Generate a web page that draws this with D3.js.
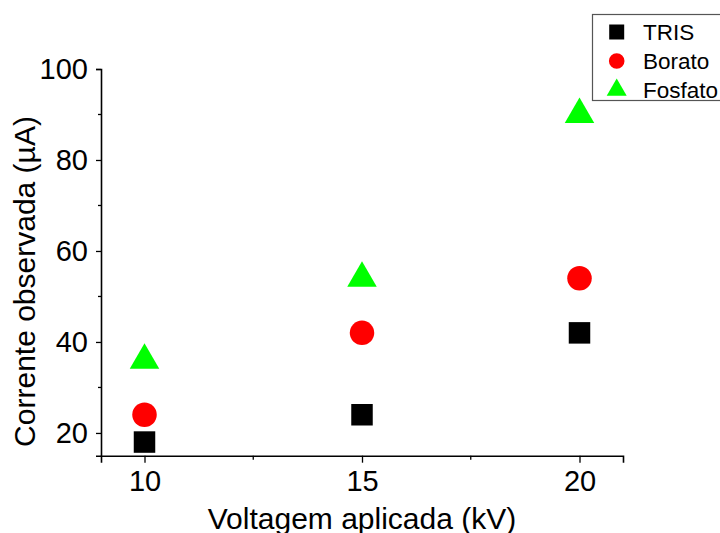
<!DOCTYPE html>
<html>
<head>
<meta charset="utf-8">
<script src="https://cdn.jsdelivr.net/npm/d3@7"></script>
<style>
  html, body { margin: 0; padding: 0; background: #fff; }
  svg { display: block; font-family: "Liberation Sans", Arial, sans-serif; }
</style>
</head>
<body>
<svg id="chart" width="720" height="533"></svg>
<script>
// Applied voltage (kV) and observed current (µA) per buffer
const voltages = [10, 15, 20];
const tris = [18, 24, 42];
const borato = [24, 42, 54];
const fosfato = [36, 54, 90];

const seriesNames = ["TRIS", "Borato", "Fosfato"];
const xTicks = [10, 15, 20];
const xMinorTicks = [12.5, 17.5];
const yTicks = [20, 40, 60, 80, 100];
const yMinorTicks = [30, 50, 70, 90];

const svg = d3.select("#chart");

const x = d3.scaleLinear().domain([9, 21]).range([101, 623]);
const y = d3.scaleLinear().domain([15, 100]).range([455.7, 69]);

// Axes
const xAxis = svg.append("g").attr("transform", `translate(0,${y(15)})`);
xAxis.call(d3.axisBottom(x).tickValues(xTicks).tickSize(7).tickPadding(8).tickFormat(d3.format("d")));
xAxis.append("g").selectAll("line").data(xMinorTicks).join("line")
  .attr("x1", d => x(d)).attr("x2", d => x(d)).attr("y1", 0).attr("y2", 4)
  .attr("stroke", "#000").attr("stroke-width", 1.3);

const yAxis = svg.append("g").attr("transform", `translate(${x(9)},0)`);
yAxis.call(d3.axisLeft(y).tickValues(yTicks).tickSize(5).tickPadding(8).tickFormat(d3.format("d")));
yAxis.append("g").selectAll("line").data(yMinorTicks).join("line")
  .attr("x1", 0).attr("x2", -3).attr("y1", d => y(d)).attr("y2", d => y(d))
  .attr("stroke", "#000").attr("stroke-width", 1.3);

[xAxis, yAxis].forEach(g => {
  g.select(".domain").attr("stroke", "#000").attr("stroke-width", 1.6);
  g.selectAll(".tick line").attr("stroke", "#000").attr("stroke-width", 1.3);
  g.selectAll(".tick text").attr("font-size", 29).attr("fill", "#000")
    .attr("font-family", "'Liberation Sans', Arial, sans-serif");
});

// Axis titles
svg.append("text")
  .attr("x", (x(9) + x(21)) / 2).attr("y", 529)
  .attr("text-anchor", "middle").attr("font-size", 30)
  .text("Voltagem aplicada (kV)");

svg.append("text")
  .attr("transform", "translate(35,281.5) rotate(-90)")
  .attr("text-anchor", "middle").attr("font-size", 30)
  .text("Corrente observada (µA)");

// Marker shapes
function squarePath(s) {
  return `M${-s/2},${-s/2}h${s}v${s}h${-s}Z`;
}
function circlePath(d) {
  const p = d3.path();
  p.arc(0, 0, d / 2, 0, 2 * Math.PI);
  p.closePath();
  return p.toString();
}
// Triangle centred on its centroid; s = base width
function trianglePath(s) {
  const h = s * Math.sqrt(3) / 2;
  return `M0,${-2*h/3}L${s/2},${h/3}L${-s/2},${h/3}Z`;
}
const shapes = {
  TRIS: { color: "#000000", path: squarePath },
  Borato: { color: "#ff0000", path: circlePath },
  Fosfato: { color: "#00ff00", path: trianglePath }
};

const seriesData = [
  { name: "TRIS", values: tris, size: 21.5 },
  { name: "Borato", values: borato, size: 24.5 },
  { name: "Fosfato", values: fosfato, size: 29.5 }
];

seriesData.forEach(s => {
  svg.append("g").selectAll("path")
    .data(voltages.map((v, i) => ({ v, c: s.values[i] })))
    .join("path")
    .attr("transform", d => `translate(${x(d.v)},${y(d.c)})`)
    .attr("d", shapes[s.name].path(s.size))
    .attr("fill", shapes[s.name].color);
});

// Legend
const legend = svg.append("g");
legend.append("rect")
  .attr("x", 592.5).attr("y", 14.5).attr("width", 150).attr("height", 86)
  .attr("fill", "#fff").attr("stroke", "#555").attr("stroke-width", 1.2);
const legendSizes = { TRIS: 15, Borato: 15.6, Fosfato: 20 };
seriesNames.forEach((name, i) => {
  const cy = 32 + i * 29;
  legend.append("path")
    .attr("transform", `translate(616.7,${cy})`)
    .attr("d", shapes[name].path(legendSizes[name]))
    .attr("fill", shapes[name].color);
  legend.append("text")
    .attr("x", 643).attr("y", cy + 8)
    .attr("font-size", 22.5)
    .text(name);
});
</script>
</body>
</html>
